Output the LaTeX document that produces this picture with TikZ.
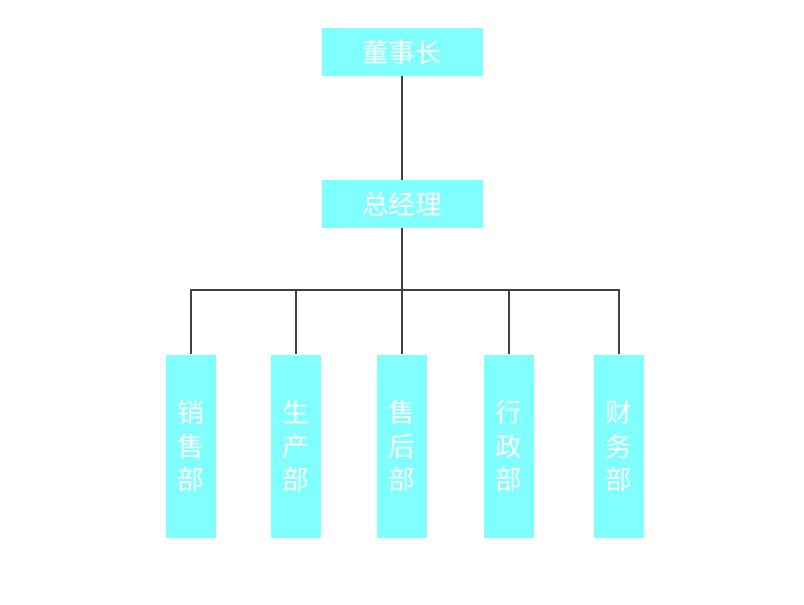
\documentclass[tikz,border=0pt]{standalone}
\usepackage{fontspec}
\newfontfamily\cjk{Noto Sans CJK SC}
\usetikzlibrary{positioning}
\definecolor{boxcyan}{HTML}{80FFFF}
\tikzstyle{head} = [rectangle, fill=boxcyan, text=white, font=\cjk\fontsize{20}{24}\selectfont,
    minimum width=161*0.75pt, minimum height=48*0.75pt, inner sep=0pt]
\tikzstyle{dept} = [rectangle, fill=boxcyan, text=white, font=\cjk\fontsize{20}{25}\selectfont,
    minimum width=50*0.75pt, minimum height=183*0.75pt, inner sep=0pt, align=center]
\tikzstyle{link} = [draw, line width=0.9pt, color=black!75]

\begin{document}
\begin{tikzpicture}[x=0.75pt, y=-0.75pt]
    \useasboundingbox (0,0) rectangle (804,604);
    \node[head] (chairman) at (402,52) {董事长};
    \node[head] (manager) at (402,204) {总经理};

    \node[dept] (sales) at (191,446) {销\\售\\部};
    \node[dept] (production) at (296,446) {生\\产\\部};
    \node[dept] (service) at (402,446) {售\\后\\部};
    \node[dept] (admin) at (509,446) {行\\政\\部};
    \node[dept] (finance) at (619,446) {财\\务\\部};

    \coordinate (bus) at (402,290);

    \path[link] (chairman) -- (manager);
    \path[link] (manager) -- (bus);
    \path[link] (bus) -| (sales);
    \path[link] (bus) -| (production);
    \path[link] (bus) -- (service);
    \path[link] (bus) -| (admin);
    \path[link] (bus) -| (finance);
\end{tikzpicture}
\end{document}
